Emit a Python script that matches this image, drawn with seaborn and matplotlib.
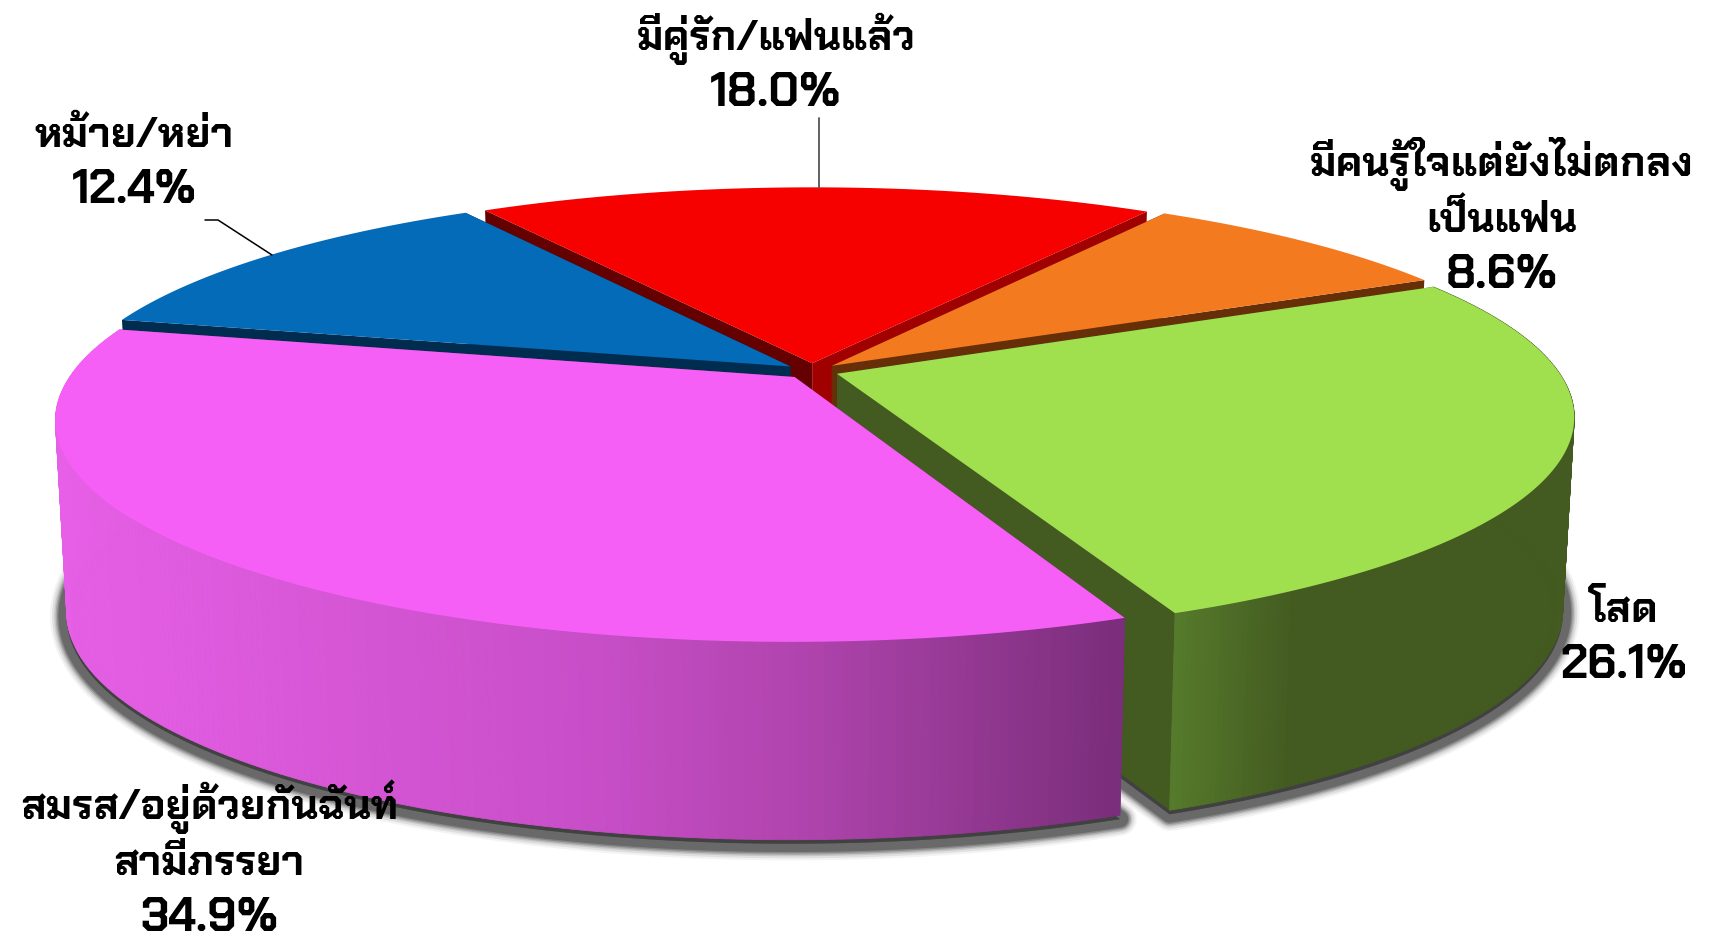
import numpy as np
import seaborn as sns
import matplotlib
matplotlib.use("Agg")
import matplotlib.pyplot as plt
from matplotlib.collections import PolyCollection
from matplotlib.colors import LinearSegmentedColormap
from matplotlib.patches import Polygon

categories = ["มีคู่รัก/แฟนแล้ว", "มีคนรู้ใจแต่ยังไม่ตกลง\nเป็นแฟน", "โสด", "สมรส/อยู่ด้วยกันฉันท์\nสามีภรรยา", "หม้าย/หย่า"]
values = [18.0, 8.6, 26.1, 34.9, 12.4]
top_colors = ["#f60000", "#f47a20", "#a0e04f", "#f55ff5", "#046bb8"]
cut_wall_a = ["#650000", "#662f08", "#435a20", "#7b2e7b", "#002c50"]
cut_wall_b = ["#a00000", "#662f08", "#435a20", "#7b2e7b", "#002c50"]
label_x = [776, 1502, 1624, 209, 134]
label_base = [106, 288, 678, 931, 203]

sns.set_theme(style="white")
plt.rcParams["font.family"] = ["Chakra Petch", "DejaVu Sans"]

# หมุนวงกลมให้เหมือนมุมมอง 3D ของรูปต้นฉบับ
CX, CY, R, H, K = 812, 371, 721, 212, 0.19
DEPTH = 190
EXPLODE = 0.037
START = 122
LINE_STEP = 56


def project(x, y, base=False):
    s = 1 / (1 + K * y)
    px = R * x * s
    py = CY - H * y * s
    if base:
        px = px * 0.985
        py = py + DEPTH * (1 - 0.04 * y)
    return CX + px, py


def arc(t1, t2, ox, oy, base=False):
    t = np.radians(np.linspace(t1, t2, 220))
    return np.column_stack(project(ox + np.cos(t), oy + np.sin(t), base))


fig = plt.figure(figsize=(17.09, 9.41), dpi=100)
ax = fig.add_axes([0, 0, 1, 1])
ax.set_axis_off()

# 각 조각 각도 (시계방향)
edges = START - 360 * np.cumsum([0] + values) / sum(values)
wedges = []
for i in range(len(values)):
    t1, t2 = edges[i], edges[i + 1]
    mid = np.radians((t1 + t2) / 2)
    wedges.append((i, t1, t2, EXPLODE * np.cos(mid), EXPLODE * np.sin(mid)))

z = 5
# เงาใต้ชิ้นพาย
for i, t1, t2, ox, oy in wedges:
    if i not in (2, 3):
        continue
    low = arc(t1, t2, ox, oy, base=True)
    shadow = np.vstack([project(ox, oy, base=True), low]) + [0, 4]
    for lw, a in zip([24, 21, 18, 16, 14, 12], [0.06, 0.1, 0.14, 0.2, 0.28, 0.35]):
        ax.add_patch(Polygon(shadow, closed=True, facecolor="#333333", edgecolor="#333333",
                             lw=lw, alpha=a, zorder=1, joinstyle="round"))

pink_cmap = LinearSegmentedColormap.from_list(
    "pink", [(0, "#e65fe6"), (0.5, "#c84ec8"), (0.7, "#b044ae"), (1, "#7b2e7b")])
green_cmap = LinearSegmentedColormap.from_list(
    "green", [(0, "#557a2b"), (0.3, "#435a20"), (1, "#435a20")])
gradients = {3: pink_cmap, 2: green_cmap}

for i, t1, t2, ox, oy in [wedges[k] for k in (0, 4, 1, 2, 3)]:
    apex_top = project(ox, oy)
    apex_low = project(ox, oy, base=True)
    top = arc(t1, t2, ox, oy)
    low = arc(t1, t2, ox, oy, base=True)

    # ผนังด้านตัด
    ax.add_patch(Polygon([apex_top, top[0], low[0], apex_low], color=cut_wall_a[i], lw=0, zorder=z))
    z += 1
    ax.add_patch(Polygon([apex_top, top[-1], low[-1], apex_low], color=cut_wall_b[i], lw=0, zorder=z))
    z += 1

    # ผนังด้านนอก ไล่สีตามแนวนอน (เฉพาะชิ้นด้านหน้าที่มองเห็น)
    if i in gradients:
        quads = [[top[j], top[j + 1], low[j + 1], low[j]] for j in range(len(top) - 1)]
        xs = np.array(quads)[:, :, 0].mean(axis=1)
        shades = gradients[i]((xs - xs.min()) / (xs.max() - xs.min()))
        ax.add_collection(PolyCollection(quads, facecolors=shades, edgecolors=shades, linewidths=0.6, zorder=z))
        z += 1

    # หน้าบน
    ax.add_patch(Polygon(np.vstack([apex_top, top]), color=top_colors[i], lw=0, zorder=z))
    z += 1

ax.set_xlim(0, 1709)
ax.set_ylim(941, 0)

# เส้นโยงป้าย
ax.plot([819, 819], [118, 188], color="#555555", lw=1.3, zorder=z)
ax.plot([205, 218, 272], [220, 220, 255], color="black", lw=1.1, zorder=z)

for name, v, lx, base_y in zip(categories, values, label_x, label_base):
    ax.text(lx, base_y, f"{v:.1f}%", ha="center", va="baseline", fontsize=34, fontweight="bold",
            color="black", zorder=z + 1)
    lines = name.split("\n")
    for n, line in enumerate(lines):
        ax.text(lx, base_y - LINE_STEP * (len(lines) - n), line, ha="center", va="baseline", fontsize=30,
                fontweight="bold", color="black", zorder=z + 1)

fig.savefig("out.png", dpi=100)
